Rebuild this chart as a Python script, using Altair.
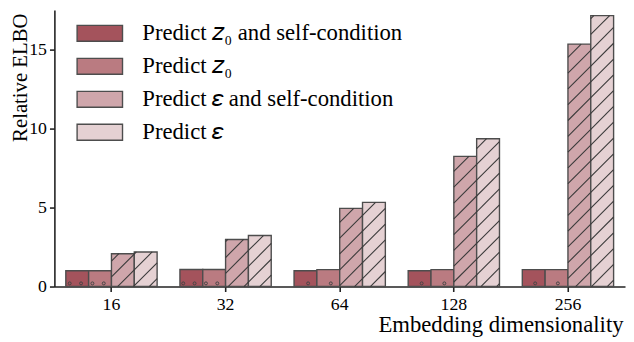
import altair as alt
import pandas as pd

# ---- data ----
dims = ["16", "32", "64", "128", "256"]
series = [
    "Predict 𝘻₀ and self-condition",
    "Predict 𝘻₀",
    "Predict 𝜀 and self-condition",
    "Predict 𝜀",
]
z0_sc = [1.0, 1.08, 1.0, 1.0, 1.07]
z0 = [1.0, 1.08, 1.07, 1.07, 1.07]
eps_sc = [2.08, 2.98, 4.95, 8.24, 15.35]
eps = [2.19, 3.23, 5.33, 9.36, 17.15]
colors = ["#a4535c", "#ba7b81", "#cfa6ab", "#e5d1d3"]

values = [z0_sc, z0, eps_sc, eps]
rows = []
for si, s in enumerate(series):
    for gi, d in enumerate(dims):
        rows.append({"dim": d, "series": s, "value": values[si][gi]})
df = pd.DataFrame(rows)

# ---- layout constants ----
W, H, YMAX = 578, 280, 17.5
NG = len(dims)
step_px = W / NG
ypx = H / YMAX
SUB = 0.8 / len(series)

# hatch lines ("/") for the epsilon series, clipped to each bar
hatch = []
SP = 16.0
for si in (2, 3):
    for gi in range(NG):
        xa = (gi + 0.1 + SUB * si) * step_px
        xb = xa + SUB * step_px
        h = values[si][gi] * ypx
        for k in range(-80, 80):
            c = k * SP
            xs = max(xa, -c)
            xe = min(xb, h - c)
            if xe - xs > 0.8:
                hatch.append({"hx1": xs / step_px, "hx2": xe / step_px,
                              "hy1": (xs + c) / ypx, "hy2": (xe + c) / ypx})
hatch_df = pd.DataFrame(hatch)

# small circles ("o" hatch) near the base of the z0 bars
dots = []
for si in (0, 1):
    for gi in range(NG):
        xa = (gi + 0.1 + SUB * si) * step_px
        xb = xa + SUB * step_px
        for k in range(0, 60):
            xg = k * 11.5 + 4
            if xa + 3 < xg < xb - 3:
                dots.append({"dx": xg / step_px, "dy": 3.2 / ypx})
dots_df = pd.DataFrame(dots)

FONT = "Liberation Serif"

y_axis = alt.Axis(values=[0, 5, 10, 15], title="Relative ELBO", grid=False,
                  domainColor="#222", domainWidth=1.6, tickColor="#222", tickWidth=1.6,
                  tickSize=5, labelFont=FONT, labelFontSize=18, labelColor="black",
                  labelPadding=3, titleFont=FONT, titleFontSize=21, titleFontWeight="normal",
                  titleColor="black", titleAngle=270, titleX=-28, titleY=3,
                  titleAlign="right", titleBaseline="alphabetic")
y_scale = alt.Scale(domain=[0, YMAX], nice=False, zero=True)

bars = alt.Chart(df).mark_bar(stroke="#4d4d4d", strokeWidth=1.4).encode(
    x=alt.X("dim:N", sort=dims, scale=alt.Scale(paddingInner=0.2, paddingOuter=0.1),
            axis=alt.Axis(title="Embedding dimensionality", labelAngle=0,
                          domainColor="#222", domainWidth=1.6, tickColor="#222", tickWidth=1.6,
                          tickSize=5, labelFont=FONT, labelFontSize=18, labelColor="black",
                          labelPadding=18, labelBaseline="alphabetic",
                          titleFont=FONT, titleFontSize=23, titleFontWeight="normal",
                          titleColor="black", titleAnchor="end", titleAlign="right",
                          titleX=W - 2, titleY=46, titleBaseline="alphabetic")),
    xOffset=alt.XOffset("series:N", sort=series),
    y=alt.Y("value:Q", scale=y_scale, axis=y_axis),
    fill=alt.Fill("series:N", sort=series,
                  scale=alt.Scale(domain=series, range=colors),
                  legend=alt.Legend(title=None, orient="none", legendX=33.5, legendY=11,
                                    symbolType="M-2,-0.7H2V0.7H-2Z", symbolSize=529,
                                    symbolStrokeColor="#4d4d4d", symbolStrokeWidth=1.4,
                                    symbolOpacity=1, labelFont=FONT, labelFontSize=23,
                                    labelColor="black", labelOffset=30.5, labelLimit=600,
                                    rowPadding=8.4, padding=0)),
)

hatch_layer = alt.Chart(hatch_df).mark_rule(color="#3a3a3a", strokeWidth=1.1).encode(
    x=alt.X("hx1:Q", scale=alt.Scale(domain=[0, NG], nice=False, zero=False), axis=None),
    x2="hx2:Q",
    y=alt.Y("hy1:Q", scale=y_scale, axis=y_axis),
    y2="hy2:Q",
)

dots_layer = alt.Chart(dots_df).mark_point(shape="circle", size=9, filled=False,
                                           stroke="#444", strokeWidth=1, opacity=1).encode(
    x=alt.X("dx:Q", scale=alt.Scale(domain=[0, NG], nice=False, zero=False), axis=None),
    y=alt.Y("dy:Q", scale=y_scale, axis=y_axis),
)

chart = alt.layer(bars, hatch_layer, dots_layer).resolve_scale(x="independent").properties(
    width=W, height=H,
    padding={"left": 47, "top": 0, "right": 1, "bottom": 52},
    autosize=alt.AutoSizeParams(type="none"),
).configure_view(stroke=None)

chart.save("out.html", embed_options={"renderer": "svg", "actions": False})
